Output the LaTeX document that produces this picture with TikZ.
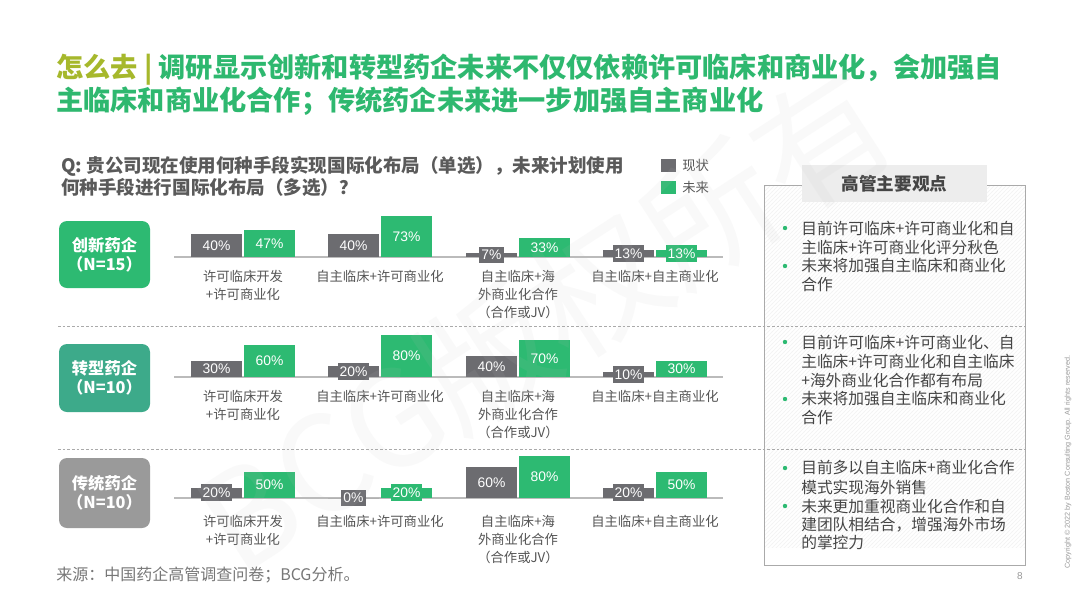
\documentclass[tikz,border=0pt]{standalone}
\usepackage{fontspec}
\setmainfont{Noto Sans CJK SC}
\newfontfamily\arialf{Liberation Sans}
\usetikzlibrary{patterns}
\definecolor{bcggreen}{HTML}{2DBA72}
\definecolor{titlegreen}{HTML}{2EB86F}
\definecolor{bcgolive}{HTML}{A6B82C}
\definecolor{bargrey}{HTML}{6C6C70}
\definecolor{tealbox}{HTML}{3DAA8A}
\definecolor{greybox}{HTML}{9A9A9A}
\definecolor{txtgrey}{HTML}{555555}
\definecolor{qgrey}{HTML}{5A5A5A}
\definecolor{lightline}{HTML}{BBBBBB}
\definecolor{dashgrey}{HTML}{AAAAAA}
\definecolor{bodytxt}{HTML}{454545}
\newcommand\pairbar[6]{%
  \fill[bargrey] (#2,#3) rectangle ++(51,{-#4*#5});
  \node[vlabel, fill=bargrey] (#1a) at ({#2+25.5},{#3-#4*#5/2}) {#5\%};
  \fill[bcggreen] ({#2+53},#3) rectangle ++(51,{-#4*#6});
  \node[vlabel, fill=bcggreen] (#1b) at ({#2+78.5},{#3-#4*#6/2}) {#6\%};
}
\begin{document}
\begin{tikzpicture}[x=0.75pt,y=-0.75pt,
  vlabel/.style={font=\arialf\fontsize{10.4}{12}\selectfont, text=white, inner xsep=1.5pt, inner ysep=0pt, minimum height=12.5pt},
  catlabel/.style={anchor=north, align=center, inner sep=0pt, font=\fontsize{10}{13.5}\selectfont, text=txtgrey},
  rowbox/.style={rounded corners=6pt, minimum width=68.25pt, text=white, align=center, inner sep=0pt, font=\bfseries\fontsize{12.2}{14.3}\selectfont},
  sep/.style={dashgrey, line width=0.6pt, dash pattern=on 2pt off 1.5pt},
  baseln/.style={lightline, line width=1.1pt},
  btxt/.style={anchor=west, inner sep=0pt, font=\fontsize{11.8}{14}\selectfont, text=bodytxt},
  bdot/.style={bcggreen},
]
\useasboundingbox (0,0) rectangle (1080,608);
\fill[white] (0,0) rectangle (1080,608);

% title
\node[anchor=west, inner sep=0pt, align=left, text=titlegreen, font=\bfseries\fontsize{20.4}{20.2}\selectfont] (title) at (56,85)
 {\textcolor{bcgolive}{怎么去 |} 调研显示创新和转型药企未来不仅仅依赖许可临床和商业化，会加强自\\主临床和商业化合作；传统药企未来进一步加强自主商业化};

% question
\node[anchor=west, inner sep=0pt, align=left, text=qgrey, font=\bfseries\fontsize{13.9}{16.5}\selectfont] (q) at (61,176)
 {Q: 贵公司现在使用何种手段实现国际化布局（单选），未来计划使用\\何种手段进行国际化布局（多选）？};

% legend
\fill[bargrey] (661,159) rectangle (676,172);
\node[anchor=west, inner sep=0pt, text=txtgrey, font=\fontsize{10}{12}\selectfont] (lg1) at (682,165.5) {现状};
\fill[bcggreen] (661,181) rectangle (676,194);
\node[anchor=west, inner sep=0pt, text=txtgrey, font=\fontsize{10}{12}\selectfont] (lg2) at (682,187.5) {未来};

% right panel
\fill[pattern=north east lines, pattern color=black!5] (764,185) rectangle (1025,547);
\draw[dashgrey, line width=0.7pt] (764,185) rectangle (1025,565);
\node[fill=black!7, minimum width=138.75pt, minimum height=27.75pt, inner sep=0pt, text=bodytxt, font=\bfseries\fontsize{13.2}{15}\selectfont] (hdr) at (894.5,183.5) {高管主要观点};

% separators
\draw[sep] (58,326) -- (1025,326);
\draw[sep] (58,449) -- (1025,449);

% row boxes
\node[rowbox, fill=bcggreen, minimum height=50.25pt] (box1) at (104.5,254.5) {创新药企\\（N=15）};
\node[rowbox, fill=tealbox, minimum height=51pt] (box2) at (104.5,378) {转型药企\\（N=10）};
\node[rowbox, fill=greybox, minimum height=52.5pt] (box3) at (104.5,493) {传统药企\\（N=10）};

% baselines
\draw[baseln] (174,257) -- (723,257);
\draw[baseln] (174,377) -- (723,377);
\draw[baseln] (174,498) -- (723,498);

% bars row 1
\pairbar{r1g1}{191}{257}{0.565}{40}{47}
\pairbar{r1g2}{328}{257}{0.565}{40}{73}
\pairbar{r1g3}{466}{257}{0.565}{7}{33}
\pairbar{r1g4}{603}{257}{0.565}{13}{13}
% bars row 2
\pairbar{r2g1}{191}{377}{0.53}{30}{60}
\pairbar{r2g2}{328}{377}{0.53}{20}{80}
\pairbar{r2g3}{466}{377}{0.53}{40}{70}
\pairbar{r2g4}{603}{377}{0.53}{10}{30}
% bars row 3
\pairbar{r3g1}{191}{498}{0.52}{20}{50}
\pairbar{r3g2}{328}{498}{0.52}{0}{20}
\pairbar{r3g3}{466}{498}{0.52}{60}{80}
\pairbar{r3g4}{603}{498}{0.52}{20}{50}

% category labels
\node[catlabel] (c11) at (243,270) {许可临床开发\\+许可商业化};
\node[catlabel] (c12) at (380,270) {自主临床+许可商业化};
\node[catlabel] (c13) at (518,270) {自主临床+海\\外商业化合作\\（合作或JV）};
\node[catlabel] (c14) at (655,270) {自主临床+自主商业化};
\node[catlabel] (c21) at (243,390) {许可临床开发\\+许可商业化};
\node[catlabel] (c22) at (380,390) {自主临床+许可商业化};
\node[catlabel] (c23) at (518,390) {自主临床+海\\外商业化合作\\（合作或JV）};
\node[catlabel] (c24) at (655,390) {自主临床+自主商业化};
\node[catlabel] (c31) at (243,515) {许可临床开发\\+许可商业化};
\node[catlabel] (c32) at (380,515) {自主临床+许可商业化};
\node[catlabel] (c33) at (518,515) {自主临床+海\\外商业化合作\\（合作或JV）};
\node[catlabel] (c34) at (655,515) {自主临床+自主商业化};

% panel bullets
\fill[bdot] (785,228) circle (2.2);
\node[btxt] (p1) at (801,228) {目前许可临床+许可商业化和自};
\node[btxt] (p2) at (801,247) {主临床+许可商业化评分秋色};
\fill[bdot] (785,266) circle (2.2);
\node[btxt] (p3) at (801,266) {未来将加强自主临床和商业化};
\node[btxt] (p4) at (801,284) {合作};

\fill[bdot] (785,342) circle (2.2);
\node[btxt] (p5) at (801,342) {目前许可临床+许可商业化、自};
\node[btxt] (p6) at (801,361) {主临床+许可商业化和自主临床};
\node[btxt] (p7) at (801,380) {+海外商业化合作都有布局};
\fill[bdot] (785,399) circle (2.2);
\node[btxt] (p8) at (801,399) {未来将加强自主临床和商业化};
\node[btxt] (p9) at (801,417) {合作};

\fill[bdot] (785,468) circle (2.2);
\node[btxt] (p10) at (801,468) {目前多以自主临床+商业化合作};
\node[btxt] (p11) at (801,487) {模式实现海外销售};
\fill[bdot] (785,506) circle (2.2);
\node[btxt] (p12) at (801,506) {未来更加重视商业化合作和自};
\node[btxt] (p13) at (801,525) {建团队相结合，增强海外市场};
\node[btxt] (p14) at (801,543) {的掌控力};

% footer
\node[anchor=west, inner sep=0pt, text=txtgrey!80, font=\fontsize{12}{13}\selectfont] (src) at (56,575) {来源：中国药企高管调查问卷；BCG分析。};
\node[inner sep=0pt, text=black!40, font=\arialf\fontsize{7.5}{9}\selectfont] (pg) at (1020,576) {8};
\node[rotate=90, inner sep=0pt, text=black!40, font=\arialf\fontsize{5.4}{6}\selectfont] (copy) at (1068,462) {Copyright © 2022 by Boston Consulting Group. All rights reserved.};

% watermark
\node[rotate=33, inner sep=0pt, text=black!25, opacity=0.09, font=\fontsize{100}{100}\selectfont] (wm) at (545,320) {BCG版权所有};
\end{tikzpicture}
\end{document}
